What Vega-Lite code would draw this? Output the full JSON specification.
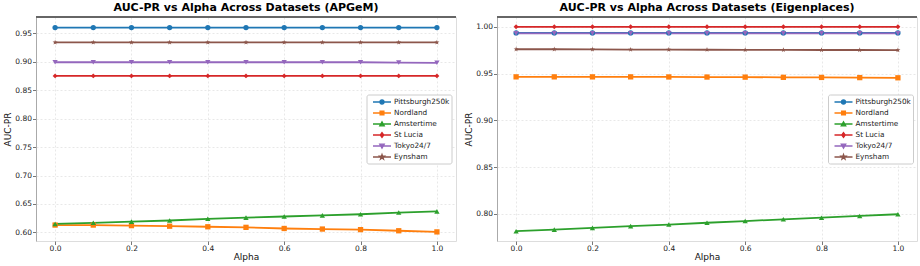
{
  "$schema": "https://vega.github.io/schema/vega-lite/v6.json",
  "padding": {"left": 3, "top": 1, "right": 2, "bottom": 1},
  "spacing": 7,
  "data": {"values": [
    {"model": "APGeM", "alpha": 0.0, "Pittsburgh250k": 0.960, "Nordland": 0.613, "Amstertime": 0.615, "St Lucia": 0.875, "Tokyo24/7": 0.899, "Eynsham": 0.934},
    {"model": "APGeM", "alpha": 0.1, "Pittsburgh250k": 0.960, "Nordland": 0.613, "Amstertime": 0.617, "St Lucia": 0.875, "Tokyo24/7": 0.899, "Eynsham": 0.934},
    {"model": "APGeM", "alpha": 0.2, "Pittsburgh250k": 0.960, "Nordland": 0.612, "Amstertime": 0.619, "St Lucia": 0.875, "Tokyo24/7": 0.899, "Eynsham": 0.934},
    {"model": "APGeM", "alpha": 0.3, "Pittsburgh250k": 0.960, "Nordland": 0.611, "Amstertime": 0.621, "St Lucia": 0.875, "Tokyo24/7": 0.899, "Eynsham": 0.934},
    {"model": "APGeM", "alpha": 0.4, "Pittsburgh250k": 0.960, "Nordland": 0.610, "Amstertime": 0.624, "St Lucia": 0.875, "Tokyo24/7": 0.899, "Eynsham": 0.934},
    {"model": "APGeM", "alpha": 0.5, "Pittsburgh250k": 0.960, "Nordland": 0.609, "Amstertime": 0.626, "St Lucia": 0.875, "Tokyo24/7": 0.899, "Eynsham": 0.934},
    {"model": "APGeM", "alpha": 0.6, "Pittsburgh250k": 0.960, "Nordland": 0.607, "Amstertime": 0.628, "St Lucia": 0.875, "Tokyo24/7": 0.899, "Eynsham": 0.934},
    {"model": "APGeM", "alpha": 0.7, "Pittsburgh250k": 0.960, "Nordland": 0.606, "Amstertime": 0.630, "St Lucia": 0.875, "Tokyo24/7": 0.899, "Eynsham": 0.934},
    {"model": "APGeM", "alpha": 0.8, "Pittsburgh250k": 0.960, "Nordland": 0.605, "Amstertime": 0.632, "St Lucia": 0.875, "Tokyo24/7": 0.899, "Eynsham": 0.934},
    {"model": "APGeM", "alpha": 0.9, "Pittsburgh250k": 0.960, "Nordland": 0.603, "Amstertime": 0.635, "St Lucia": 0.875, "Tokyo24/7": 0.8985, "Eynsham": 0.934},
    {"model": "APGeM", "alpha": 1.0, "Pittsburgh250k": 0.960, "Nordland": 0.601, "Amstertime": 0.637, "St Lucia": 0.875, "Tokyo24/7": 0.898, "Eynsham": 0.934},
    {"model": "Eigenplaces", "alpha": 0.0, "Pittsburgh250k": 0.9935, "Nordland": 0.9465, "Amstertime": 0.7815, "St Lucia": 1.000, "Tokyo24/7": 0.9930, "Eynsham": 0.9760},
    {"model": "Eigenplaces", "alpha": 0.1, "Pittsburgh250k": 0.9935, "Nordland": 0.9465, "Amstertime": 0.7832, "St Lucia": 1.000, "Tokyo24/7": 0.9930, "Eynsham": 0.9760},
    {"model": "Eigenplaces", "alpha": 0.2, "Pittsburgh250k": 0.9935, "Nordland": 0.9465, "Amstertime": 0.7850, "St Lucia": 1.000, "Tokyo24/7": 0.9930, "Eynsham": 0.9759},
    {"model": "Eigenplaces", "alpha": 0.3, "Pittsburgh250k": 0.9935, "Nordland": 0.9465, "Amstertime": 0.7869, "St Lucia": 1.000, "Tokyo24/7": 0.9930, "Eynsham": 0.9757},
    {"model": "Eigenplaces", "alpha": 0.4, "Pittsburgh250k": 0.9935, "Nordland": 0.9464, "Amstertime": 0.7886, "St Lucia": 1.000, "Tokyo24/7": 0.9930, "Eynsham": 0.9756},
    {"model": "Eigenplaces", "alpha": 0.5, "Pittsburgh250k": 0.9935, "Nordland": 0.9463, "Amstertime": 0.7905, "St Lucia": 1.000, "Tokyo24/7": 0.9930, "Eynsham": 0.9755},
    {"model": "Eigenplaces", "alpha": 0.6, "Pittsburgh250k": 0.9935, "Nordland": 0.9462, "Amstertime": 0.7923, "St Lucia": 1.000, "Tokyo24/7": 0.9930, "Eynsham": 0.9754},
    {"model": "Eigenplaces", "alpha": 0.7, "Pittsburgh250k": 0.9935, "Nordland": 0.9460, "Amstertime": 0.7942, "St Lucia": 1.000, "Tokyo24/7": 0.9930, "Eynsham": 0.9753},
    {"model": "Eigenplaces", "alpha": 0.8, "Pittsburgh250k": 0.9935, "Nordland": 0.9459, "Amstertime": 0.7959, "St Lucia": 1.000, "Tokyo24/7": 0.9930, "Eynsham": 0.9752},
    {"model": "Eigenplaces", "alpha": 0.9, "Pittsburgh250k": 0.9935, "Nordland": 0.9457, "Amstertime": 0.7978, "St Lucia": 1.000, "Tokyo24/7": 0.9930, "Eynsham": 0.9752},
    {"model": "Eigenplaces", "alpha": 1.0, "Pittsburgh250k": 0.9935, "Nordland": 0.9455, "Amstertime": 0.7996, "St Lucia": 1.000, "Tokyo24/7": 0.9930, "Eynsham": 0.9751}
  ]},
  "resolve": {"scale": {"color": "independent"}, "legend": {"color": "independent"}},
  "hconcat": [
    {
      "width": 420, "height": 224,
      "title": "AUC-PR vs Alpha Across Datasets (APGeM)",
      "transform": [
        {"filter": "datum.model === 'APGeM'"},
        {"fold": ["Pittsburgh250k", "Nordland", "Amstertime", "St Lucia", "Tokyo24/7", "Eynsham"], "as": ["dataset", "auc"]}
      ],
      "encoding": {
        "x": {"field": "alpha", "type": "quantitative", "scale": {"domain": [-0.05, 1.05], "nice": false, "zero": false}, "axis": {"title": "Alpha", "values": [0, 0.2, 0.4, 0.6, 0.8, 1.0], "format": ".1f", "labelPadding": 0, "titlePadding": 0}},
        "y": {"field": "auc", "type": "quantitative", "scale": {"domain": [0.585, 0.9785], "nice": false, "zero": false}, "axis": {"title": "AUC-PR", "values": [0.6, 0.65, 0.7, 0.75, 0.8, 0.85, 0.9, 0.95], "format": ".2f", "domain": true, "domainColor": "#aaaaaa"}}
      },
      "layer": [
        {
          "mark": {"type": "line", "strokeWidth": 1.8},
          "encoding": {
            "color": {"field": "dataset", "type": "nominal",
              "scale": {"domain": ["Pittsburgh250k", "Nordland", "Amstertime", "St Lucia", "Tokyo24/7", "Eynsham"], "range": ["#1f77b4", "#ff7f0e", "#2ca02c", "#d62728", "#9467bd", "#8c564b"]},
              "legend": {"title": null, "orient": "none", "legendX": 330.5, "legendY": 77.5, "symbolSize": 100, "symbolType": "circle", "labelFontSize": 7.3, "labelOffset": 14, "rowPadding": -1.6, "padding": 1.5, "strokeColor": "#cccccc", "fillColor": "#ffffff", "cornerRadius": 2, "labelColor": "#222222", "symbolStrokeWidth": 1.3,
                "encode": {"symbols": {"update": {
                  "shape": {"signal": "{'Pittsburgh250k':'M-0.2,0H3.4M2.0,0A0.4,0.4 0 1,1 1.2,0A0.4,0.4 0 1,1 2.0,0Z','Nordland':'M-0.2,0H3.4M1.22,-0.38H1.98V0.38H1.22Z','Amstertime':'M-0.2,0H3.4M1.6,-0.45L2.05,0.37H1.15Z','St Lucia':'M-0.2,0H3.4M1.6,-0.48L1.95,0L1.6,0.48L1.25,0Z','Tokyo24/7':'M-0.2,0H3.4M1.6,0.45L2.05,-0.37H1.15Z','Eynsham':'M-0.2,0H3.4M1.6,-0.5L1.718,-0.162L2.076,-0.155L1.790,0.062L1.894,0.405L1.6,0.2L1.306,0.405L1.410,0.062L1.124,-0.155L1.482,-0.162Z'}[datum.value]"},
                  "fill": {"signal": "{'Pittsburgh250k':'#1f77b4','Nordland':'#ff7f0e','Amstertime':'#2ca02c','St Lucia':'#d62728','Tokyo24/7':'#9467bd','Eynsham':'#8c564b'}[datum.value]"},
                  "stroke": {"signal": "{'Pittsburgh250k':'#1f77b4','Nordland':'#ff7f0e','Amstertime':'#2ca02c','St Lucia':'#d62728','Tokyo24/7':'#9467bd','Eynsham':'#8c564b'}[datum.value]"},
                  "opacity": {"value": 1}, "fillOpacity": {"value": 1}, "strokeWidth": {"value": 1.3}
                }}}
              }}
          }
        },
        {"transform": [{"filter": "datum.dataset === 'Pittsburgh250k'"}], "mark": {"type": "point", "filled": true, "opacity": 1, "size": 28, "shape": "circle", "color": "#1f77b4"}},
        {"transform": [{"filter": "datum.dataset === 'Nordland'"}], "mark": {"type": "point", "filled": true, "opacity": 1, "size": 28, "shape": "square", "color": "#ff7f0e"}},
        {"transform": [{"filter": "datum.dataset === 'Amstertime'"}], "mark": {"type": "point", "filled": true, "opacity": 1, "size": 28, "shape": "triangle-up", "color": "#2ca02c"}},
        {"transform": [{"filter": "datum.dataset === 'St Lucia'"}], "mark": {"type": "point", "filled": true, "opacity": 1, "size": 24, "shape": "diamond", "color": "#d62728"}},
        {"transform": [{"filter": "datum.dataset === 'Tokyo24/7'"}], "mark": {"type": "point", "filled": true, "opacity": 1, "size": 28, "shape": "triangle-down", "color": "#9467bd"}},
        {"transform": [{"filter": "datum.dataset === 'Eynsham'"}], "mark": {"type": "point", "filled": true, "opacity": 1, "size": 28, "shape": "M0,-1L0.235,-0.324L0.951,-0.309L0.380,0.124L0.588,0.809L0,0.4L-0.588,0.809L-0.380,0.124L-0.951,-0.309L-0.235,-0.324Z", "color": "#8c564b"}},
        {
          "mark": {"type": "rule", "color": "#666666", "strokeWidth": 1},
          "encoding": {"x": null, "y": {"datum": 0.9785}}
        }
      ]
    },
    {
      "width": 420, "height": 224,
      "title": "AUC-PR vs Alpha Across Datasets (Eigenplaces)",
      "transform": [
        {"filter": "datum.model === 'Eigenplaces'"},
        {"fold": ["Pittsburgh250k", "Nordland", "Amstertime", "St Lucia", "Tokyo24/7", "Eynsham"], "as": ["dataset", "auc"]}
      ],
      "encoding": {
        "x": {"field": "alpha", "type": "quantitative", "scale": {"domain": [-0.05, 1.05], "nice": false, "zero": false}, "axis": {"title": "Alpha", "values": [0, 0.2, 0.4, 0.6, 0.8, 1.0], "format": ".1f", "labelPadding": 0, "titlePadding": 0}},
        "y": {"field": "auc", "type": "quantitative", "scale": {"domain": [0.771, 1.0105], "nice": false, "zero": false}, "axis": {"title": "AUC-PR", "values": [0.8, 0.85, 0.9, 0.95, 1.0], "format": ".2f", "domain": true, "domainColor": "#aaaaaa"}}
      },
      "layer": [
        {
          "mark": {"type": "line", "strokeWidth": 1.8},
          "encoding": {
            "color": {"field": "dataset", "type": "nominal",
              "scale": {"domain": ["Pittsburgh250k", "Nordland", "Amstertime", "St Lucia", "Tokyo24/7", "Eynsham"], "range": ["#1f77b4", "#ff7f0e", "#2ca02c", "#d62728", "#9467bd", "#8c564b"]},
              "legend": {"title": null, "orient": "none", "legendX": 331, "legendY": 77.5, "symbolSize": 100, "symbolType": "circle", "labelFontSize": 7.3, "labelOffset": 14, "rowPadding": -1.6, "padding": 1.5, "strokeColor": "#cccccc", "fillColor": "#ffffff", "cornerRadius": 2, "labelColor": "#222222", "symbolStrokeWidth": 1.3,
                "encode": {"symbols": {"update": {
                  "shape": {"signal": "{'Pittsburgh250k':'M-0.2,0H3.4M2.0,0A0.4,0.4 0 1,1 1.2,0A0.4,0.4 0 1,1 2.0,0Z','Nordland':'M-0.2,0H3.4M1.22,-0.38H1.98V0.38H1.22Z','Amstertime':'M-0.2,0H3.4M1.6,-0.45L2.05,0.37H1.15Z','St Lucia':'M-0.2,0H3.4M1.6,-0.48L1.95,0L1.6,0.48L1.25,0Z','Tokyo24/7':'M-0.2,0H3.4M1.6,0.45L2.05,-0.37H1.15Z','Eynsham':'M-0.2,0H3.4M1.6,-0.5L1.718,-0.162L2.076,-0.155L1.790,0.062L1.894,0.405L1.6,0.2L1.306,0.405L1.410,0.062L1.124,-0.155L1.482,-0.162Z'}[datum.value]"},
                  "fill": {"signal": "{'Pittsburgh250k':'#1f77b4','Nordland':'#ff7f0e','Amstertime':'#2ca02c','St Lucia':'#d62728','Tokyo24/7':'#9467bd','Eynsham':'#8c564b'}[datum.value]"},
                  "stroke": {"signal": "{'Pittsburgh250k':'#1f77b4','Nordland':'#ff7f0e','Amstertime':'#2ca02c','St Lucia':'#d62728','Tokyo24/7':'#9467bd','Eynsham':'#8c564b'}[datum.value]"},
                  "opacity": {"value": 1}, "fillOpacity": {"value": 1}, "strokeWidth": {"value": 1.3}
                }}}
              }}
          }
        },
        {"transform": [{"filter": "datum.dataset === 'Pittsburgh250k'"}], "mark": {"type": "point", "filled": true, "opacity": 1, "size": 28, "shape": "circle", "color": "#1f77b4"}},
        {"transform": [{"filter": "datum.dataset === 'Nordland'"}], "mark": {"type": "point", "filled": true, "opacity": 1, "size": 28, "shape": "square", "color": "#ff7f0e"}},
        {"transform": [{"filter": "datum.dataset === 'Amstertime'"}], "mark": {"type": "point", "filled": true, "opacity": 1, "size": 28, "shape": "triangle-up", "color": "#2ca02c"}},
        {"transform": [{"filter": "datum.dataset === 'St Lucia'"}], "mark": {"type": "point", "filled": true, "opacity": 1, "size": 24, "shape": "diamond", "color": "#d62728"}},
        {"transform": [{"filter": "datum.dataset === 'Tokyo24/7'"}], "mark": {"type": "point", "filled": true, "opacity": 1, "size": 28, "shape": "triangle-down", "color": "#9467bd"}},
        {"transform": [{"filter": "datum.dataset === 'Eynsham'"}], "mark": {"type": "point", "filled": true, "opacity": 1, "size": 28, "shape": "M0,-1L0.235,-0.324L0.951,-0.309L0.380,0.124L0.588,0.809L0,0.4L-0.588,0.809L-0.380,0.124L-0.951,-0.309L-0.235,-0.324Z", "color": "#8c564b"}},
        {
          "mark": {"type": "rule", "color": "#666666", "strokeWidth": 1},
          "encoding": {"x": null, "y": {"datum": 1.0105}}
        }
      ]
    }
  ],
  "config": {
    "font": "DejaVu Sans",
    "view": {"stroke": "#dddddd"},
    "axis": {"labelFontSize": 7.5, "titleFontSize": 9, "titleFontWeight": "normal", "labelColor": "#222222", "titleColor": "#111111", "tickColor": "#777777", "tickSize": 3.5, "labelPadding": 1, "titlePadding": 2, "gridColor": "#e2e2e2", "gridDash": [2, 2], "gridWidth": 0.8, "domain": false},
    "title": {"fontSize": 11, "fontWeight": "bold", "offset": 3.5, "color": "#000000"}
  }
}
